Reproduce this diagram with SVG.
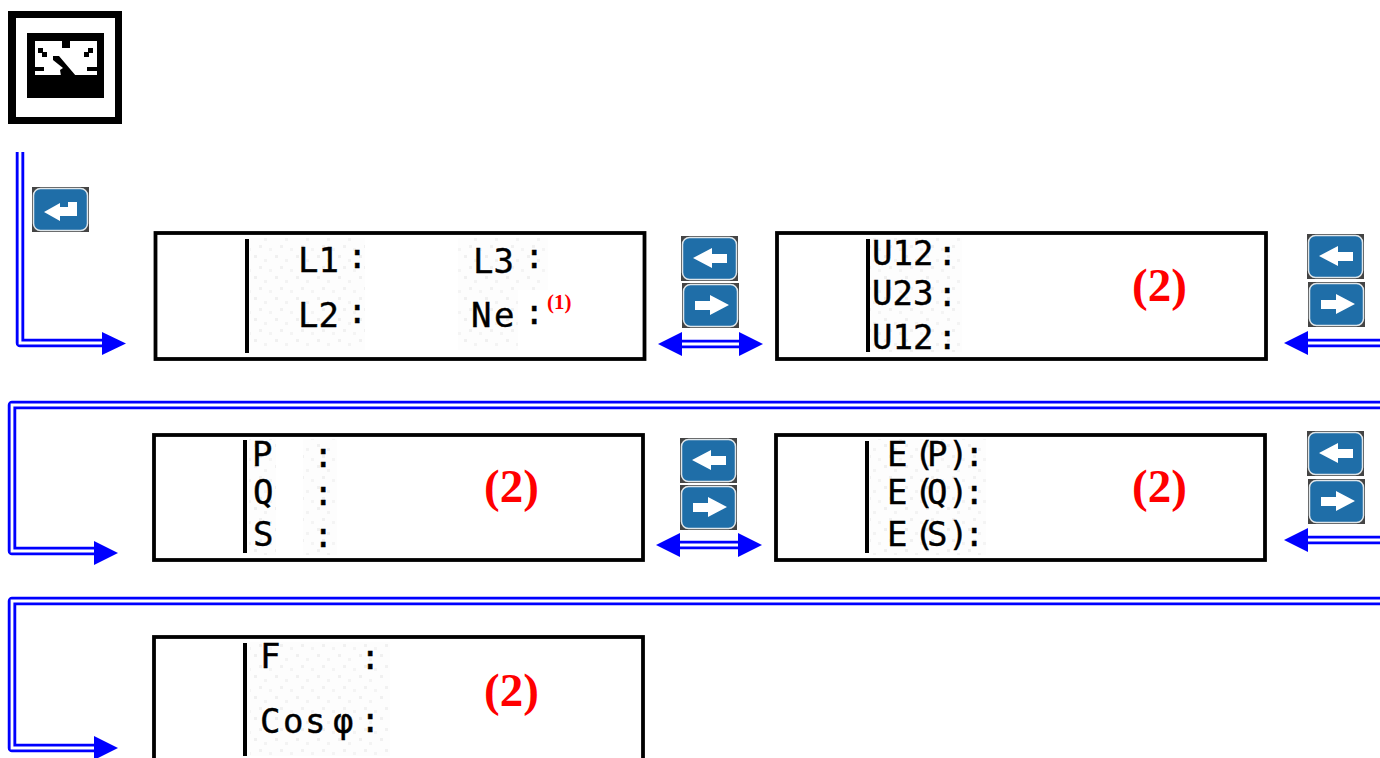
<svg xmlns="http://www.w3.org/2000/svg" xmlns:xlink="http://www.w3.org/1999/xlink" width="1380" height="758" viewBox="0 0 1380 758">
<style>
.box{fill:#fff;stroke:#000;stroke-width:3.800}
.bar{stroke:#000;stroke-width:4;fill:none}
.lcd{font-family:"DejaVu Sans Mono","Liberation Mono",monospace;font-size:34px;fill:#000;stroke:#000;stroke-width:.4}
.red{font-family:"Liberation Serif","Times New Roman",serif;font-weight:bold;font-size:47px;fill:#f00}
.sup{font-size:21px}
.outer{fill:none;stroke:#00f;stroke-width:8.500;stroke-linejoin:round}
.inner{fill:none;stroke:#fff;stroke-width:2.800}
.head{fill:#00f}
.noise{fill:url(#speck)}
</style>
<defs>
<pattern id="speck" width="21" height="21" patternUnits="userSpaceOnUse">
<rect width="21" height="21" fill="#fdfdfd"/>
<rect x="2" y="3" width="3" height="3" fill="#f0f0f0"/>
<rect x="12" y="7" width="3" height="3" fill="#f3f3f3"/>
<rect x="7" y="14" width="3" height="3" fill="#f1f1f1"/>
<rect x="17" y="17" width="3" height="3" fill="#f4f4f4"/>
</pattern>
<g id="btn">
<rect width="57" height="45" fill="#444"/>
<rect x="1.500" y="1.500" width="54" height="42" rx="7" fill="#1f6ea8" stroke="#dfe6ea" stroke-width="1.500"/>
</g>
<g id="btnL">
<use xlink:href="#btn" href="#btn"/>
<polygon points="12,22 31,12 31,18 46,18 46,27 31,27 31,32" fill="#fff"/>
</g>
<g id="btnR">
<use xlink:href="#btn" href="#btn"/>
<polygon points="47,22 28,12 28,18 13,18 13,27 28,27 28,32" fill="#fff"/>
</g>
</defs>
<rect width="1380" height="758" fill="#fff"/>
<g id="connectors">
<path class="outer" d="M20 152V343H105"/><path class="inner" d="M20 152V343H105"/>
<polygon class="head" points="102,332 126,343.500 102,355"/>
<path class="outer" d="M680 344H742"/><path class="inner" d="M680 344H742"/>
<polygon class="head" points="682,332 658,344 682,356"/><polygon class="head" points="739,332 763,344 739,356"/>
<path class="outer" d="M1380 343H1306"/><path class="inner" d="M1380 343H1306"/>
<polygon class="head" points="1308,331 1284,343 1308,355"/>
<path class="outer" d="M1380 405H12V551H96"/><path class="inner" d="M1380 405H12V551H96"/>
<polygon class="head" points="94,541 118,553 94,565"/>
<path class="outer" d="M678 545H740"/><path class="inner" d="M678 545H740"/>
<polygon class="head" points="680,533 656,545 680,557"/><polygon class="head" points="738,533 762,545 738,557"/>
<path class="outer" d="M1380 540H1306"/><path class="inner" d="M1380 540H1306"/>
<polygon class="head" points="1308,528 1284,540 1308,552"/>
<path class="outer" d="M1380 601H12V748H96"/><path class="inner" d="M1380 601H12V748H96"/>
<polygon class="head" points="94,736 118,748 94,760"/>
</g>
<g id="mode-icon">
<rect x="8" y="11" width="114" height="113" fill="#000"/>
<rect x="16" y="18" width="99" height="99" fill="#fff"/>
<rect x="27" y="33" width="77" height="65" fill="#000"/>
<path fill="#fff" d="M35 41H62V48H70V41H97V75H35Z"/>
<path fill="#000" d="M35 67H44V71H35ZM87 67H97V71H87ZM38 48H43V52H47V57H42V53H38ZM93 48V53H89V57H84V52H88V48ZM53 56H59L76 76H61L60 70 63 68 53 60Z"/>
</g>
<g id="enter-button">
<use xlink:href="#btn" href="#btn" transform="translate(32 187)"/>
<polygon points="44,212 60,203 60,207 68,207 68,202 77,202 77,216 60,216 60,221" fill="#fff"/>
</g>
<g id="screen-voltage-phase">
<rect class="box" x="155.500" y="233" width="489" height="126"/>
<rect class="noise" x="250" y="238" width="115" height="112"/>
<rect class="noise" x="458" y="238" width="90" height="52"/>
<rect class="noise" x="458" y="290" width="60" height="60"/>
<path class="bar" d="M247 239V353"/>
<text class="lcd" x="298" y="272">L1</text>
<text class="lcd" x="347" y="268">:</text>
<text class="lcd" x="473" y="273">L3</text>
<text class="lcd" x="524" y="268">:</text>
<text class="lcd" x="298" y="327">L2</text>
<text class="lcd" x="347" y="323">:</text>
<text class="lcd" x="471 494" y="327">Ne</text>
<text class="lcd" x="524" y="324">:</text>
<text class="red sup" x="547" y="309">(1)</text>
</g>
<g id="screen-voltage-line">
<rect class="box" x="777" y="233" width="489" height="126"/>
<rect class="noise" x="870" y="238" width="92" height="114"/>
<path class="bar" d="M868 239V352"/>
<text class="lcd" x="872" y="265">U12</text>
<text class="lcd" x="937" y="265">:</text>
<text class="lcd" x="872" y="305">U23</text>
<text class="lcd" x="937" y="306">:</text>
<text class="lcd" x="872" y="349">U12</text>
<text class="lcd" x="937" y="349">:</text>
<text class="red" x="1132" y="301">(2)</text>
</g>
<g id="screen-power">
<rect class="box" x="154" y="435" width="489" height="125"/>
<rect class="noise" x="249" y="439" width="27" height="116"/>
<rect class="noise" x="303" y="439" width="34" height="116"/>
<path class="bar" d="M245 440V553"/>
<text class="lcd" x="252" y="466">P</text><text class="lcd" x="313" y="467">:</text>
<text class="lcd" x="253" y="504">Q</text><text class="lcd" x="313" y="505">:</text>
<text class="lcd" x="253" y="546">S</text><text class="lcd" x="313" y="547">:</text>
<text class="red" x="484" y="502">(2)</text>
</g>
<g id="screen-energy">
<rect class="box" x="776" y="435" width="489" height="125"/>
<rect class="noise" x="870" y="439" width="116" height="116"/>
<path class="bar" d="M867 441V553"/>
<text class="lcd" x="887 907 914 927 948 964" y="466">E (P):</text>
<text class="lcd" x="887 907 914 927 948 964" y="504">E (Q):</text>
<text class="lcd" x="887 907 914 927 948 964" y="546">E (S):</text>
<text class="red" x="1132" y="502">(2)</text>
</g>
<g id="screen-frequency">
<rect class="box" x="154" y="637" width="489" height="125"/>
<rect class="noise" x="250" y="642" width="140" height="114"/>
<path class="bar" d="M245 643V756"/>
<text class="lcd" x="260" y="668">F</text><text class="lcd" x="360" y="669">:</text>
<text class="lcd" x="260 283 305 333" y="733">Cosφ</text><text class="lcd" x="360" y="732">:</text>
<text class="red" x="484" y="706">(2)</text>
</g>
<g id="nav-buttons-1">
<use xlink:href="#btnL" href="#btnL" transform="translate(681 236)"/>
<use xlink:href="#btnR" href="#btnR" transform="translate(682 283)"/>
</g>
<g id="nav-buttons-2">
<use xlink:href="#btnL" href="#btnL" transform="translate(1307 234)"/>
<use xlink:href="#btnR" href="#btnR" transform="translate(1308 282)"/>
</g>
<g id="nav-buttons-3">
<use xlink:href="#btnL" href="#btnL" transform="translate(680 438)"/>
<use xlink:href="#btnR" href="#btnR" transform="translate(680 485)"/>
</g>
<g id="nav-buttons-4">
<use xlink:href="#btnL" href="#btnL" transform="translate(1307 431)"/>
<use xlink:href="#btnR" href="#btnR" transform="translate(1308 479)"/>
</g>
</svg>
